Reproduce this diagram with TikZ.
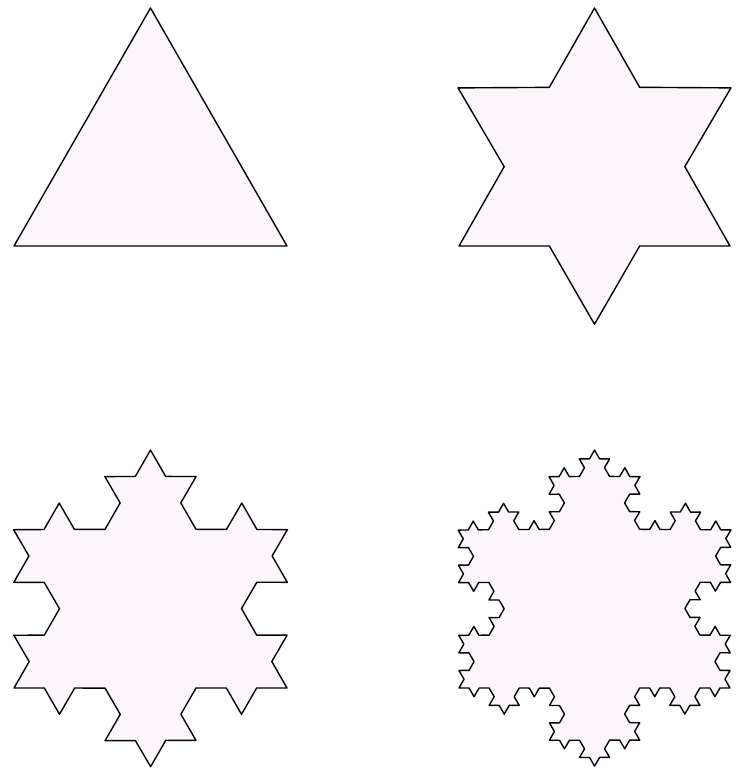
\documentclass[tikz,border=0pt]{standalone}
\usepackage{tikz}
\usetikzlibrary{decorations.fractals}

\definecolor{flakepink}{RGB}{252,245,251}

\begin{document}
\begin{tikzpicture}[
    x=1pt, y=1pt,
    flake/.style={draw=black, fill=flakepink, line width=1.4pt, line join=round, line cap=round},
    decoration=Koch snowflake
]
    \useasboundingbox (0,0) rectangle (738,-778);

    % corners of the starting triangles (clockwise, so the bumps point outward)
    \coordinate (ta) at (150.5,-8);   \coordinate (tb) at (287,-246); \coordinate (tc) at (14,-246);
    \coordinate (ua) at (594.5,-8);   \coordinate (ub) at (730,-246); \coordinate (uc) at (459,-246);
    \coordinate (va) at (150.5,-450); \coordinate (vb) at (287,-688); \coordinate (vc) at (14,-688);
    \coordinate (wa) at (594.5,-450); \coordinate (wb) at (730,-688); \coordinate (wc) at (459,-688);

    % stage 0
    \path[flake] (ta) -- (tb) -- (tc) -- cycle;
    % stage 1
    \path[flake] decorate{ (ua) -- (ub) -- (uc) -- (ua) };
    % stage 2
    \path[flake] decorate{ decorate{ (va) -- (vb) -- (vc) -- (va) } };
    % stage 3
    \path[flake] decorate{ decorate{ decorate{ (wa) -- (wb) -- (wc) -- (wa) } } };
\end{tikzpicture}
\end{document}
